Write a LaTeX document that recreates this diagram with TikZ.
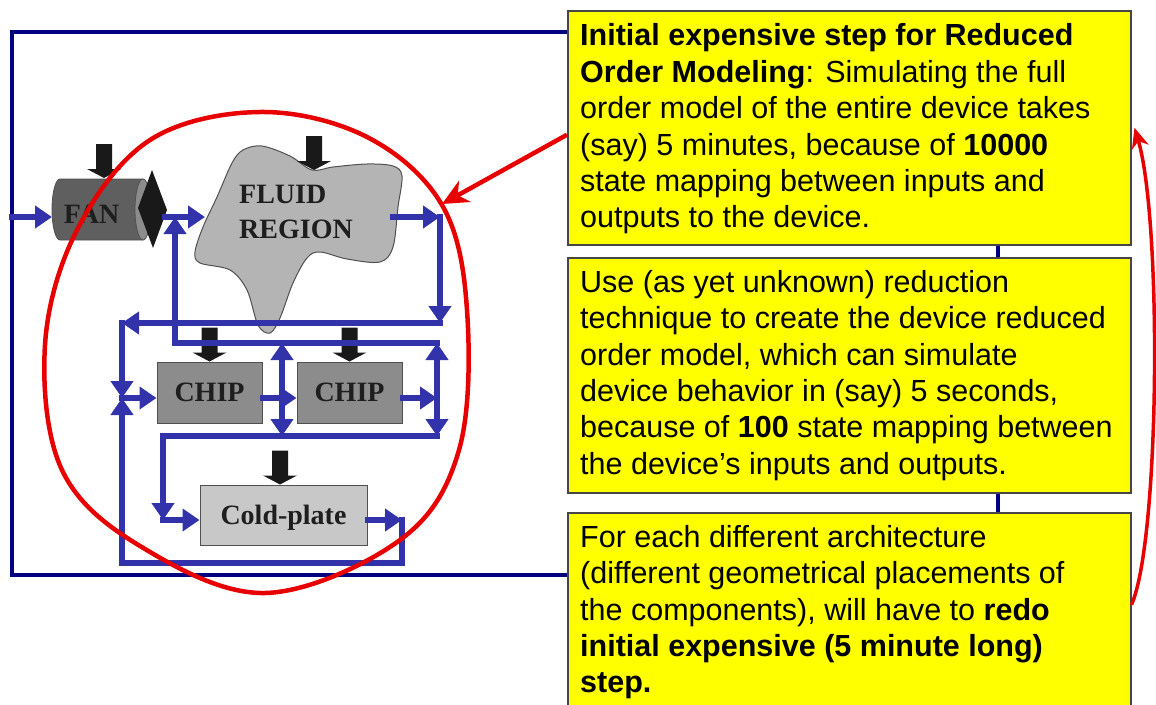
\documentclass[tikz,border=0pt]{standalone}
\usepackage{fontspec}
\setmainfont{Liberation Sans}
\newfontfamily\labelfont{Liberation Serif}
\usetikzlibrary{arrows.meta,calc}

\definecolor{flowblue}{RGB}{50,50,170}
\definecolor{framenavy}{RGB}{0,0,128}
\definecolor{notebg}{RGB}{255,255,0}
\definecolor{noteedge}{RGB}{70,70,70}
\definecolor{heatblack}{RGB}{25,25,25}
\definecolor{chipgray}{RGB}{140,140,140}
\definecolor{coldgray}{RGB}{200,200,200}
\definecolor{fluidgray}{RGB}{180,180,180}
\definecolor{fandark}{RGB}{95,95,95}
\definecolor{fanface}{RGB}{140,140,140}
\definecolor{outlinegray}{RGB}{80,80,80}
\definecolor{callred}{RGB}{232,0,0}
\definecolor{labelink}{RGB}{30,30,30}

\begin{document}
\begin{tikzpicture}[x=1pt,y=-1pt,
  flow/.style={draw=flowblue, line width=6pt, line cap=rect},
  flowtip/.style={flow, -{Triangle[length=17pt,width=22pt]}},
  frameline/.style={draw=framenavy, line width=4pt},
  ybox/.style={draw=noteedge, fill=notebg, line width=1.5pt, inner sep=0pt,
    minimum width=563pt, anchor=north west},
  notetext/.style={align=left, inner sep=0pt, anchor=north west,
    font=\fontsize{30.5pt}{36.4pt}\selectfont, text=black},
  lbl/.style={font=\labelfont\bfseries\fontsize{28pt}{35pt}\selectfont, text=labelink},
  part/.style={lbl, draw=outlinegray, line width=1pt, inner sep=0pt,
    text height=18.5pt, text depth=0pt},
  callout/.style={draw=callred, line width=4.5pt,
    -{Stealth[length=26pt,width=24pt,inset=8pt]}},
  callcurve/.style={draw=callred, line width=3.5pt,
    -{Stealth[length=20pt,width=17pt,inset=6pt]}},
  pics/heat/.style={code={
    \fill[heatblack] (0,0) -- (-17,-9) -- (-8,-9) -- (-8,-34) -- (8,-34)
      -- (8,-9) -- (17,-9) -- cycle;}}
]
\useasboundingbox (0,0) rectangle (1156,704);

% outer loop of the device
\coordinate (frameNW) at (12,32);
\coordinate (frameSE) at (998,575);
\draw[frameline] (frameNW) rectangle (frameSE);

% note boxes
\node[ybox, minimum height=234pt] (b1) at (567,10) {};
\node[ybox, minimum height=235pt] (b2) at (567,257) {};
\node[ybox, minimum height=220pt] (b3) at (567,512) {};

\node[notetext] (t1) at ([xshift=13pt,yshift=-13.5pt]b1.north west)
  {\textbf{Initial expensive step for Reduced}\\
   \textbf{Order Modeling}: Simulating the full\\
   order model of the entire device takes\\
   (say) 5 minutes, because of \textbf{10000}\\
   state mapping between inputs and\\
   outputs to the device.};
\node[notetext] (t2) at ([xshift=13pt,yshift=-13pt]b2.north west)
  {Use (as yet unknown) reduction\\
   technique to create the device reduced\\
   order model, which can simulate\\
   device behavior in (say) 5 seconds,\\
   because of \textbf{100} state mapping between\\
   the device’s inputs and outputs.};
\node[notetext] (t3) at ([xshift=13pt,yshift=-13pt]b3.north west)
  {For each different architecture\\
   (different geometrical placements of\\
   the components), will have to \textbf{redo}\\
   \textbf{initial expensive (5 minute long)}\\
   \textbf{step.}};

% fluid region
\filldraw[fill=fluidgray, draw=outlinegray, line width=1pt]
  plot[smooth cycle, tension=0.55] coordinates {
   (243,150) (262,146) (290,156) (312,170) (333,167) (367,164) (393,166)
   (402,176) (398,207) (393,247) (380,262) (347,259) (320,252) (307,258)
   (293,283) (280,318) (270,333) (258,325) (247,290) (230,270) (200,263)
   (195,252) (203,227) (217,197) (232,163)};
\node[lbl, align=left, inner sep=0pt, anchor=north west] (fluid) at (239,184.5)
  {FLUID\\REGION};

% fan
\filldraw[fill=fandark, draw=outlinegray, line width=0.8pt]
  (143,179) -- (60,179) arc[start angle=270, end angle=90, x radius=8, y radius=30.5]
  -- (143,240) -- cycle;
\filldraw[fill=fanface, draw=outlinegray, line width=0.8pt]
  (143,209.5) ellipse [x radius=8, y radius=30.5];
\node[lbl, anchor=base, inner sep=0pt] (fan) at (91.5,223) {FAN};
\fill[heatblack] (152,170) -- (167,210) -- (153,248) -- (138,208) -- cycle;

% components
\node[part, fill=chipgray, minimum width=105pt, minimum height=61pt] (chip1)
  at (209.5,392.5) {CHIP};
\node[part, fill=chipgray, minimum width=105pt, minimum height=61pt] (chip2)
  at (349.5,392.5) {CHIP};
\node[part, fill=coldgray, minimum width=167pt, minimum height=60pt] (cold)
  at (283.5,515) {Cold-plate};

% heat loads
\pic at (104,178) {heat};
\pic at (314,170) {heat};
\pic at (chip1.north) {heat};
\pic at (chip2.north) {heat};
\pic at ([xshift=-3.5pt]cold.north) {heat};

% junctions of the coolant loop
\coordinate (inlet) at (12,217);
\coordinate (fanin) at (52,217);
\coordinate (fanout) at (165,217);
\coordinate (fluidin) at (205,217);
\coordinate (fluidout) at (393,217);
\coordinate (fr) at (440,217);
\coordinate (frb) at (440,323);
\coordinate (lt) at (122,323);
\coordinate (lj) at (122,398);
\coordinate (lb) at (122,563);
\coordinate (mj) at (282,398);
\coordinate (mjt) at (282,343);
\coordinate (mjb) at (282,436);
\coordinate (rj) at (437,398);
\coordinate (rjt) at (437,343);
\coordinate (rjb) at (437,436);
\coordinate (ft) at (175,343);
\coordinate (fj) at (175,217);
\coordinate (cl) at (163,436);
\coordinate (cj) at (163,520);
\coordinate (cr) at (402,520);
\coordinate (crb) at (402,563);

% coolant flow
\draw[flowtip] (inlet) -- (fanin);
\draw[flowtip] (fanout) -- (fluidin);
\draw[flowtip] (rjt) -- (ft) -- (fj);
\draw[flowtip] (fluidout) -- (fr);
\draw[flowtip] (fr) -- (frb);
\draw[flowtip] (frb) -- (lt);
\draw[flowtip] (lt) -- (lj);
\draw[flowtip] (cold.east |- cj) -- (cr);
\draw[flowtip] (cr) -- (crb) -- (lb) -- (lj);
\draw[flowtip] (lj) -- (chip1.west |- lj);
\draw[flowtip] (chip1.east |- lj) -- (chip2.west |- lj);
\draw[flowtip] (mj) -- (mjt);
\draw[flowtip] (mj) -- (mjb);
\draw[flowtip] (chip2.east |- lj) -- (rj);
\draw[flowtip] (rj) -- (rjt);
\draw[flowtip] (rj) -- (rjb);
\draw[flowtip] (rjb) -- (cl) -- (cj);
\draw[flowtip] (cj) -- (cold.west |- cj);

% ring around the device model
\draw[callred, line width=4.5pt]
  plot[smooth cycle, tension=0.6] coordinates {
   (260,112) (367,137) (442,205) (467,310) (459,450) (400,540)
   (265,593) (140,546) (62,470) (45,345) (77,230) (150,140)};
\coordinate (ringhit) at (442,204);

% callouts
\draw[callout] ([yshift=-7pt]b1.west) -- (ringhit);
\draw[callcurve] ([yshift=18pt]b3.east) .. controls (1160,540) and (1162,220)
  .. ([xshift=3pt]b1.east);
\end{tikzpicture}
\end{document}
